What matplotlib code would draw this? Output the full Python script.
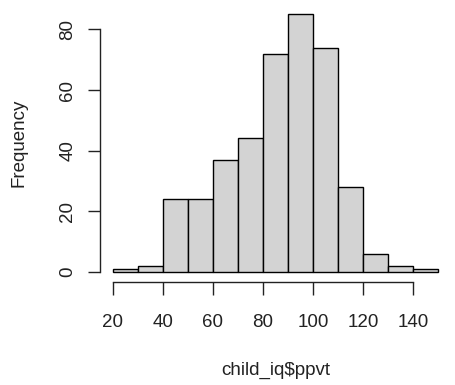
import matplotlib
matplotlib.use('Agg')
import matplotlib.pyplot as plt
import numpy as np

# histogram of child_iq$ppvt
bin_left = [20, 30, 40, 50, 60, 70, 80, 90, 100, 110, 120, 130, 140]
counts = [1, 2, 24, 24, 37, 44, 72, 85, 74, 28, 6, 2, 1]
bin_width = 10
x_ticks = [20, 40, 60, 80, 100, 120, 140]
y_ticks = [0, 20, 40, 60, 80]

plt.rcParams['font.family'] = ['Liberation Sans', 'DejaVu Sans']

fig = plt.figure(figsize=(4.56, 3.85), dpi=100)
ax = fig.add_axes([0.219, 0.2675, 0.77, 0.7221])

ax.bar(bin_left, counts, width=bin_width, align='edge',
       color='#d3d3d3', edgecolor='black', linewidth=1.0)

# R style: 4% padding on both axes
ax.set_xlim(14.8, 155.2)
ax.set_ylim(-3.4, 88.4)

for s in ['top', 'right']:
    ax.spines[s].set_visible(False)
ax.spines['left'].set_bounds(0, 80)
ax.spines['bottom'].set_bounds(20, 140)
for s in ['left', 'bottom']:
    ax.spines[s].set_linewidth(1.0)
    ax.spines[s].set_color('#222222')

ax.set_xticks(x_ticks)
ax.set_yticks(y_ticks)
ax.tick_params(length=9, width=1.0, color='#222222', labelsize=13.5,
               labelcolor='#222222')
ax.tick_params(axis='x', pad=14)
ax.tick_params(axis='y', pad=8)
ax.set_yticklabels([str(v) for v in y_ticks], rotation=90, va='center')

ax.set_xlabel('child_iq$ppvt', fontsize=13.5, color='#222222', labelpad=22)
ax.set_ylabel('Frequency', fontsize=13.5, color='#222222', labelpad=23)

plt.savefig('out.png', dpi=100)
